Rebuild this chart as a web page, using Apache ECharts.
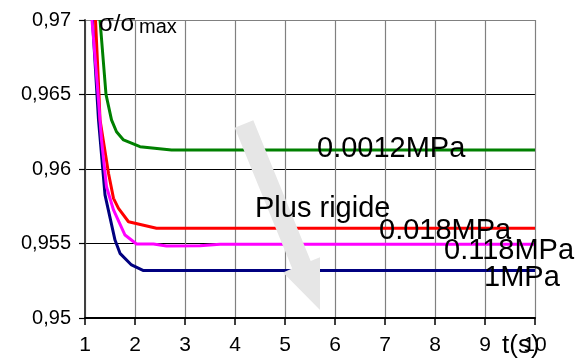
<!DOCTYPE html>
<html>
<head>
<meta charset="utf-8">
<script src="https://cdn.jsdelivr.net/npm/echarts@6/dist/echarts.min.js"></script>
<style>html,body{margin:0;padding:0;background:#fff}#c{width:587px;height:362px}</style>
</head>
<body>
<div id="c"></div>
<script>
// Data: [t (s), sigma/sigma_max]
var green0012 = [[1.30,0.970],[1.42,0.965],[1.53,0.9633],[1.63,0.9625],[1.77,0.96195],[2.10,0.9615],[2.73,0.96128],[4,0.96128],[6,0.96128],[8,0.96128],[10,0.96128]];
var red018 = [[1.21,0.970],[1.28,0.965],[1.30,0.9633],[1.47,0.95971],[1.57,0.95803],[1.67,0.95736],[1.87,0.95646],[2.43,0.95602],[4,0.95602],[6,0.95602],[8,0.95602],[10,0.95602]];
var magenta118 = [[1.14,0.970],[1.25,0.9655],[1.33,0.96195],[1.43,0.95881],[1.57,0.95725],[1.80,0.95557],[2.03,0.95497],[2.37,0.95497],[2.63,0.95483],[3.30,0.95485],[3.70,0.95495],[6,0.95495],[8,0.95495],[10,0.95495]];
var blue1 = [[1.15,0.970],[1.27,0.96329],[1.40,0.95826],[1.60,0.95523],[1.70,0.95434],[1.93,0.95356],[2.17,0.95318],[4,0.95318],[6,0.95318],[8,0.95318],[10,0.95318]];
var xTickLabels = ['1','2','3','4','5','6','7','8','9','10'];
var yTickLabels = ['0,95','0,955','0,96','0,965','0,97'];
var seriesNames = ['1MPa','0.118MPa','0.018MPa','0.0012MPa'];

var chart = echarts.init(document.getElementById('c'), null, {renderer:'canvas'});
var FONT = 'Liberation Sans, Arial, sans-serif';
function mk(name, data, color){
  return {name:name, type:'line', data:data, showSymbol:false, symbol:'none',
    lineStyle:{color:color, width:3}, itemStyle:{color:color}, clip:true, animation:false};
}
chart.setOption({
  animation:false,
  grid:{left:85, right:52, top:20, bottom:44, containLabel:false},
  xAxis:{type:'value', min:1, max:10, interval:1,
    axisLine:{onZero:false, lineStyle:{color:'#000', width:2}},
    axisTick:{length:7, lineStyle:{color:'#000', width:1.5}},
    axisLabel:{margin:17, fontSize:21, fontFamily:FONT, color:'#000',
      formatter:function(v){ return xTickLabels[Math.round(v)-1]; }},
    splitLine:{show:true, lineStyle:{color:'#808080', width:1.2}}
  },
  yAxis:{type:'value', min:0.95, max:0.97, interval:0.005,
    axisLine:{show:true, onZero:false, lineStyle:{color:'#404040', width:2}},
    axisTick:{show:true, length:6, lineStyle:{color:'#000', width:1.2}},
    axisLabel:{margin:14, fontSize:20, fontFamily:FONT, color:'#000',
      formatter:function(v){ return yTickLabels[Math.round((v-0.95)/0.005)]; }},
    splitLine:{show:true, lineStyle:{color:['#000','#000','#000','#000','#808080'], width:1}}
  },
  series:[
    mk(seriesNames[0], blue1, '#000080'),
    mk(seriesNames[3], green0012, '#008000'),
    mk(seriesNames[2], red018, '#ff0000'),
    mk(seriesNames[1], magenta118, '#ff00ff')
  ],
  graphic:[
    {type:'polygon', z:100, shape:{points:[[234.7,127.8],[253.3,120.2],[310.7,261.0],[320.0,257.2],[320,310.1],[283.0,272.4],[292.2,268.4]]},
      style:{fill:'#e6e6e6'}},
    {type:'text', z:110, x:317, y:149, style:{text:'0.0012MPa', font:'29px '+FONT, fill:'#000', verticalAlign:'middle'}},
    {type:'text', z:110, x:255, y:209, style:{text:'Plus rigide', font:'29px '+FONT, fill:'#000', verticalAlign:'middle'}},
    {type:'text', z:110, x:379, y:231, style:{text:'0.018MPa', font:'29px '+FONT, fill:'#000', verticalAlign:'middle'}},
    {type:'text', z:110, x:444, y:251, style:{text:'0.118MPa', font:'29px '+FONT, fill:'#000', verticalAlign:'middle'}},
    {type:'text', z:110, x:484, y:278, style:{text:'1MPa', font:'29px '+FONT, fill:'#000', verticalAlign:'middle'}},
    {type:'text', z:110, x:99, y:24, style:{text:'σ/σ', font:'24px '+FONT, fill:'#000', verticalAlign:'middle'}},
    {type:'text', z:110, x:139, y:27, style:{text:'max', font:'20px '+FONT, fill:'#000', verticalAlign:'middle'}},
    {type:'text', z:110, x:502, y:346, style:{text:'t(s)', font:'26px '+FONT, fill:'#000', verticalAlign:'middle'}}
  ]
});
</script>
</body>
</html>
